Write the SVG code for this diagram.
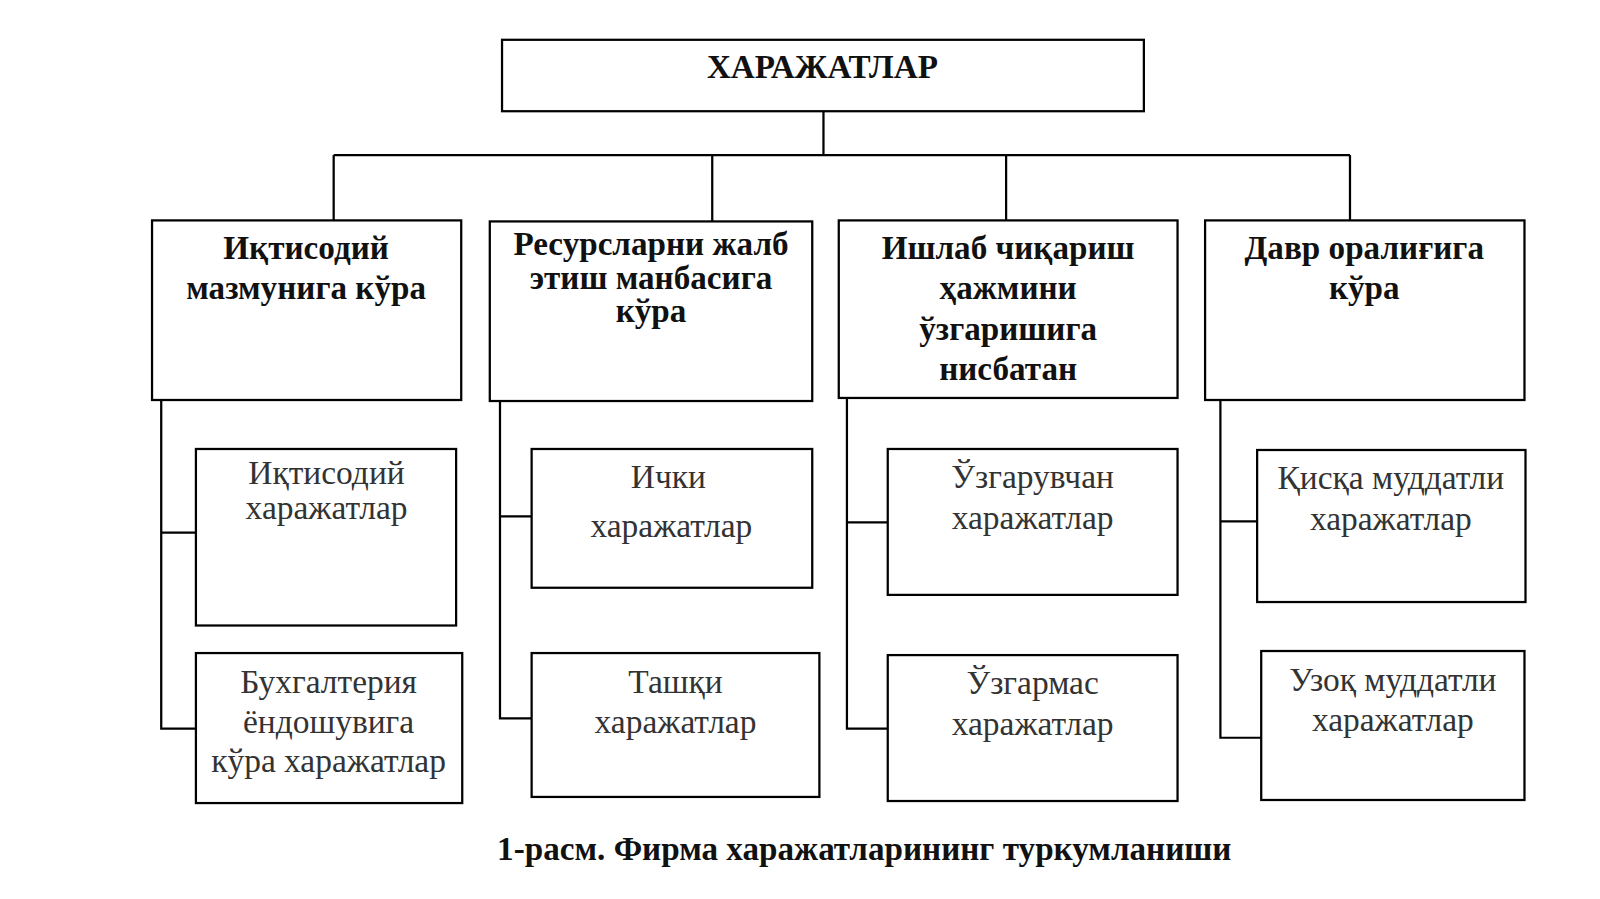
<svg xmlns="http://www.w3.org/2000/svg" width="1600" height="899" viewBox="0 0 1600 899">
<style>
rect{fill:#fff;stroke:#000;stroke-width:2.2}
.c line,.c path{stroke:#000;stroke-width:2.2;fill:none}
text{font-family:"Liberation Serif","DejaVu Serif",serif;text-anchor:middle;fill:#111}
.b{font-weight:bold;font-size:32.5px}
.r{font-size:32.8px;fill:#333}
</style>
<rect x="0" y="0" width="1600" height="899" style="stroke:none"/>
<g transform="scale(1.0204)">
<g class="c">
<line x1="807" y1="109" x2="807" y2="152"/>
<line x1="327" y1="152" x2="1323" y2="152"/>
<line x1="327" y1="152" x2="327" y2="216"/>
<line x1="698" y1="152" x2="698" y2="217"/>
<line x1="986" y1="152" x2="986" y2="216"/>
<line x1="1323" y1="152" x2="1323" y2="216"/>
<path d="M158 392V714H192M158 522H192"/>
<path d="M490 393V704H521M490 506H521"/>
<path d="M830 390V714H870M830 512H870"/>
<path d="M1196 392V723H1236M1196 511H1232"/>
</g>
<g id="root"><rect x="492" y="39" width="629" height="70"/><text class="b" x="806" y="76">ХАРАЖАТЛАР</text></g>
<g id="n1"><rect x="149" y="216" width="303" height="176"/><text class="b" x="300" y="254">Иқтисодий</text><text class="b" x="300" y="293">мазмунига кўра</text></g>
<g id="n2"><rect x="480" y="217" width="316" height="176"/><text class="b" x="638" y="250">Ресурсларни жалб</text><text class="b" x="638" y="283">этиш манбасига</text><text class="b" x="638" y="316">кўра</text></g>
<g id="n3"><rect x="822" y="216" width="332" height="174"/><text class="b" x="988" y="254">Ишлаб чиқариш</text><text class="b" x="988" y="293">ҳажмини</text><text class="b" x="988" y="333">ўзгаришига</text><text class="b" x="988" y="372">нисбатан</text></g>
<g id="n4"><rect x="1181" y="216" width="313" height="176"/><text class="b" x="1337" y="254">Давр оралиғига</text><text class="b" x="1337" y="293">кўра</text></g>
<g id="a1"><rect x="192" y="440" width="255" height="173"/><text class="r" x="320" y="474">Иқтисодий</text><text class="r" x="320" y="509">харажатлар</text></g>
<g id="a2"><rect x="192" y="640" width="261" height="147"/><text class="r" x="322" y="679">Бухгалтерия</text><text class="r" x="322" y="718">ёндошувига</text><text class="r" x="322" y="757">кўра харажатлар</text></g>
<g id="b1"><rect x="521" y="440" width="275" height="136"/><text class="r" x="655" y="478">Ички</text><text class="r" x="658" y="526">харажатлар</text></g>
<g id="b2"><rect x="521" y="640" width="282" height="141"/><text class="r" x="662" y="679">Ташқи</text><text class="r" x="662" y="718">харажатлар</text></g>
<g id="c1"><rect x="870" y="440" width="284" height="143"/><text class="r" x="1012" y="478">Ўзгарувчан</text><text class="r" x="1012" y="518">харажатлар</text></g>
<g id="c2"><rect x="870" y="642" width="284" height="143"/><text class="r" x="1012" y="680">Ўзгармас</text><text class="r" x="1012" y="720">харажатлар</text></g>
<g id="d1"><rect x="1232" y="441" width="263" height="149"/><text class="r" x="1363" y="479">Қисқа муддатли</text><text class="r" x="1363" y="519">харажатлар</text></g>
<g id="d2"><rect x="1236" y="638" width="258" height="146"/><text class="r" x="1365" y="677">Узоқ муддатли</text><text class="r" x="1365" y="716">харажатлар</text></g>
<text class="b" x="847" y="843">1-расм. Фирма харажатларининг туркумланиши</text>
</g>
</svg>
